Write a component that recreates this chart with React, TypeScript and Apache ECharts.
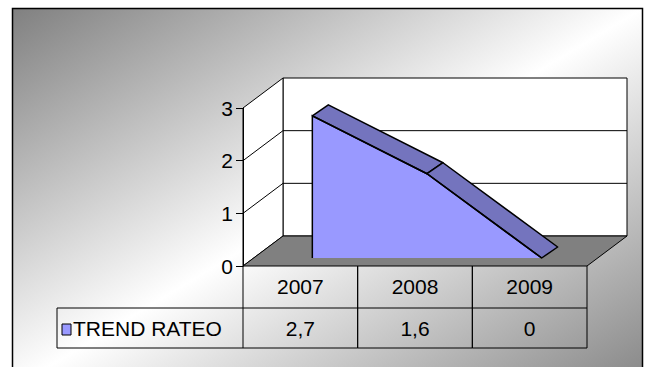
import React, { useEffect, useRef } from "react";
import * as echarts from "echarts";

const categories = ["2007", "2008", "2009"];
const seriesName = "TREND RATEO";
const values = [2.7, 1.6, 0];
const yTicks = [0, 1, 2, 3];

const FONT = "Arial, 'Liberation Sans', sans-serif";
const FS = 21;

export default function App() {
  const ref = useRef<HTMLDivElement>(null);

  useEffect(() => {
    const chart = echarts.init(ref.current!, null, { renderer: "svg" });
    const DEPTH = [40, -30];
    const FRONT = [12, -8];
    const BACK = [28, -19];
    const HEADER_H = 42;
    const ROW_H = 40;
    const LABEL_LEFT = 57;
    const fmt = (v: number) => String(v).replace(".", ",");

    const option: any = {
      animation: false,
      graphic: [
        {
          type: "rect",
          z: -10,
          shape: { x: 12.5, y: 8.5, width: 630, height: 380 },
          style: {
            fill: new echarts.graphic.LinearGradient(0, 0, 1, 1, [
              { offset: 0, color: "#808080" },
              { offset: 0.5, color: "#ffffff" },
              { offset: 1, color: "#858585" },
            ]),
            stroke: "#000",
            lineWidth: 1.5,
          },
        },
      ],
      grid: { left: 243, top: 108, width: 344, height: 158 },
      xAxis: {
        type: "category",
        data: categories,
        axisLine: { show: false },
        axisTick: { show: false },
        axisLabel: { color: "#000", fontSize: FS, fontFamily: FONT, margin: 10 },
        splitLine: { show: false },
      },
      yAxis: {
        type: "value",
        min: 0,
        max: 3,
        interval: 1,
        z: 5,
        axisLine: { show: true, lineStyle: { color: "#000", width: 1 } },
        axisTick: { show: true, length: 7, lineStyle: { color: "#000", width: 1 } },
        axisLabel: { color: "#000", fontSize: FS, fontFamily: FONT, margin: 10 },
        splitLine: { show: false },
      },
      series: [
        {
          type: "custom",
          name: "walls",
          z: 1,
          clip: false,
          silent: true,
          data: [[0, 0]],
          renderItem: (params: any, api: any) => {
            const bw = api.size([1, 0])[0];
            const c0 = api.coord([0, 0]);
            const cN = api.coord([categories.length - 1, 0]);
            const left = c0[0] - bw / 2;
            const right = cN[0] + bw / 2;
            const yOf = (v: number) => api.coord([0, v])[1];
            const y0 = yOf(yTicks[0]);
            const yTop = yOf(yTicks[yTicks.length - 1]);
            const [dx, dy] = DEPTH;
            const children: any[] = [];
            children.push({
              type: "polygon",
              shape: { points: [[left + dx, y0 + dy], [right + dx, y0 + dy], [right + dx, yTop + dy], [left + dx, yTop + dy]] },
              style: { fill: "#fff", stroke: "#000", lineWidth: 1 },
            });
            children.push({
              type: "polygon",
              shape: { points: [[left, y0], [left, yTop], [left + dx, yTop + dy], [left + dx, y0 + dy]] },
              style: { fill: "#fff", stroke: "#000", lineWidth: 1 },
            });
            yTicks.slice(1, -1).forEach((v) => {
              const y = yOf(v);
              children.push({
                type: "polyline",
                shape: { points: [[left, y], [left + dx, y + dy], [right + dx, y + dy]] },
                style: { fill: null, stroke: "#000", lineWidth: 1 },
              });
            });
            children.push({
              type: "polygon",
              shape: { points: [[left, y0], [right, y0], [right + dx, y0 + dy], [left + dx, y0 + dy]] },
              style: { fill: "#808080", stroke: "#000", lineWidth: 1 },
            });
            return { type: "group", children };
          },
        },
        {
          type: "custom",
          name: seriesName,
          z: 3,
          clip: false,
          data: values.map((v, i) => [i, v]),
          renderItem: (params: any, api: any) => {
            if (params.dataIndex !== 0) return { type: "group", children: [] };
            const pts = values.map((v, i) => api.coord([i, v]));
            const base = api.coord([0, 0])[1];
            const front = pts.map((p: number[]) => [p[0] + FRONT[0], p[1] + FRONT[1]]);
            const back = pts.map((p: number[]) => [p[0] + BACK[0], p[1] + BACK[1]]);
            const fb = base + FRONT[1];
            const n = front.length;
            const children: any[] = [];
            children.push({
              type: "polygon",
              shape: { points: [[front[0][0], fb], ...front, [front[n - 1][0], fb]] },
              style: { fill: "#9999FF", stroke: null },
            });
            for (let i = 0; i < n - 1; i++) {
              children.push({
                type: "polygon",
                shape: { points: [front[i], back[i], back[i + 1], front[i + 1]] },
                style: { fill: "#7474BE", stroke: "#000", lineWidth: 1.5, lineJoin: "round" },
              });
            }
            children.push({
              type: "polyline",
              shape: { points: [[front[0][0], fb], ...front] },
              style: { fill: null, stroke: "#000", lineWidth: 1.5 },
            });
            return { type: "group", children };
          },
        },
        {
          type: "custom",
          name: "table",
          z: 4,
          clip: false,
          silent: true,
          data: values.map((v, i) => [i, v]),
          renderItem: (params: any, api: any) => {
            const i = api.value(0);
            const v = api.value(1);
            const bw = api.size([1, 0])[0];
            const c = api.coord([i, 0]);
            const y0 = c[1];
            const cl = c[0] - bw / 2;
            const cr = c[0] + bw / 2;
            const hb = y0 + HEADER_H;
            const rb = hb + ROW_H;
            const ls = { stroke: "#000", lineWidth: 1 };
            const children: any[] = [
              { type: "line", shape: { x1: cl, y1: y0, x2: cl, y2: rb }, style: ls },
              { type: "line", shape: { x1: cr, y1: y0, x2: cr, y2: rb }, style: ls },
              { type: "line", shape: { x1: cl, y1: hb, x2: cr, y2: hb }, style: ls },
              { type: "line", shape: { x1: cl, y1: rb, x2: cr, y2: rb }, style: ls },
              {
                type: "text",
                style: {
                  text: fmt(v),
                  x: c[0],
                  y: (hb + rb) / 2,
                  align: "center",
                  verticalAlign: "middle",
                  fontSize: FS,
                  fontFamily: FONT,
                  fill: "#000",
                },
              },
            ];
            if (params.dataIndex === 0) {
              children.push(
                { type: "line", shape: { x1: LABEL_LEFT, y1: hb, x2: cl, y2: hb }, style: ls },
                { type: "line", shape: { x1: LABEL_LEFT, y1: rb, x2: cl, y2: rb }, style: ls },
                { type: "line", shape: { x1: LABEL_LEFT, y1: hb, x2: LABEL_LEFT, y2: rb }, style: ls },
                {
                  type: "rect",
                  shape: { x: LABEL_LEFT + 5, y: (hb + rb) / 2 - 4, width: 9, height: 11 },
                  style: { fill: "#9999FF", stroke: "#000", lineWidth: 1 },
                },
                {
                  type: "text",
                  style: {
                    text: seriesName,
                    x: LABEL_LEFT + 16,
                    y: (hb + rb) / 2,
                    align: "left",
                    verticalAlign: "middle",
                    fontSize: FS,
                    fontFamily: FONT,
                    fill: "#000",
                  },
                }
              );
            }
            return { type: "group", children };
          },
        },
      ],
    };

    chart.setOption(option);
    return () => chart.dispose();
  }, []);

  return (
    <div
      ref={ref}
      style={{ position: "absolute", left: 0, top: 0, width: 645, height: 367 }}
    />
  );
}
